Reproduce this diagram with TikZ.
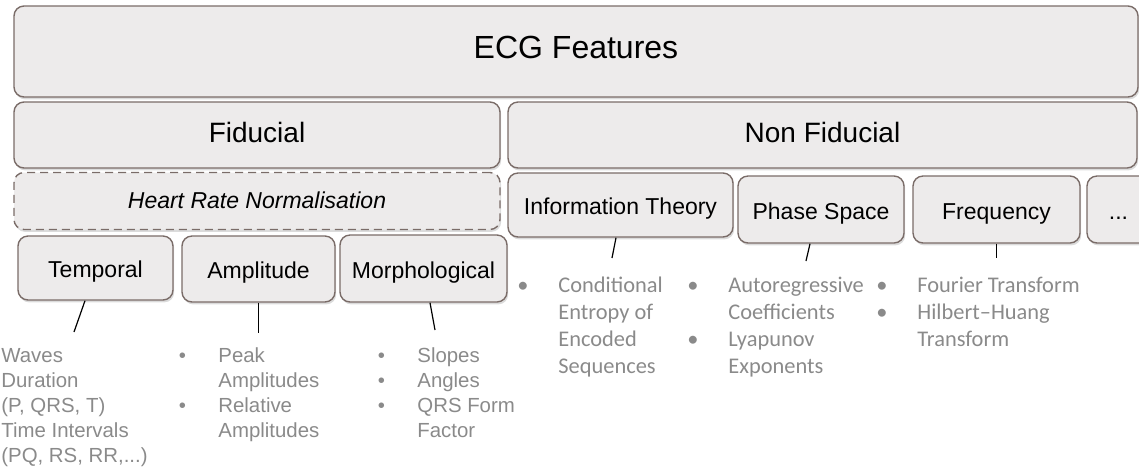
\documentclass[tikz,border=0pt]{standalone}
\usepackage{fontspec}
\setmainfont{Liberation Sans}
\newfontfamily\calibrifont{Carlito}
\usepackage{xcolor}
\usepackage{tikz}
\usetikzlibrary{shapes,shadows}

\definecolor{boxfill}{HTML}{EDEBEB}
\definecolor{boxline}{HTML}{7A6C68}
\definecolor{listgray}{HTML}{8A8A8A}

\newcommand{\itm}{\llap{\textbullet\hspace{16.2pt}}}
\newcommand{\citm}{\llap{\textbullet\hspace{15pt}}}
\newcommand{\lines}[1]{\begin{tabular}[t]{@{}l@{}}#1\end{tabular}}

\begin{document}
\begin{tikzpicture}[
    x=0.5pt, y=-0.5pt,
    box/.style={rectangle, rounded corners=5pt, draw=boxline, line width=0.7pt, fill=boxfill, align=center, inner sep=0pt,
        text height=0.72em, text depth=0pt,
        drop shadow={shadow xshift=0.6pt, shadow yshift=-1.2pt, fill=black!40, opacity=0.35}},
    catbox/.style={box, text height=0.95em, font=\fontsize{11.5}{13}\selectfont},
    dashbox/.style={catbox, text height=0.72em, dashed, dash pattern=on 4pt off 2.5pt},
    link/.style={line width=0.6pt},
    featlist/.style={anchor=base west, inner sep=0pt, text=listgray, font=\fontsize{10.2}{12.5}\selectfont},
    featlistc/.style={anchor=base west, inner sep=0pt, text=listgray, font=\calibrifont\fontsize{11.2}{13.5}\selectfont}
]
    \useasboundingbox (0,0) rectangle (1139,473);

    \node[box, minimum width=562pt, minimum height=45.5pt, font=\fontsize{16}{18}\selectfont] (ecg) at (576,51.5) {ECG Features};
    \node[box, minimum width=243pt, minimum height=33pt, font=\fontsize{14}{16}\selectfont] (fiducial) at (257,135) {Fiducial};
    \node[box, minimum width=314.5pt, minimum height=33pt, font=\fontsize{14}{16}\selectfont] (nonfiducial) at (822.5,135) {Non Fiducial};
    \node[dashbox, minimum width=243pt, minimum height=28.5pt] (hrnorm) at (257,201) {\itshape Heart Rate Normalisation};

    \node[catbox, minimum width=112.5pt, minimum height=32pt] (infotheory) at (620.5,205) {Information Theory};
    \node[catbox, minimum width=83pt, minimum height=33.5pt] (phasespace) at (821,209.5) {Phase Space};
    \node[catbox, minimum width=83.5pt, minimum height=33.5pt] (frequency) at (996.5,209.5) {Frequency};
    \node[catbox, minimum width=31.5pt, minimum height=33.5pt] (others) at (1118.5,209.5) {...};

    \node[catbox, minimum width=77.5pt, minimum height=32pt] (temporal) at (95.5,268) {Temporal};
    \node[catbox, minimum width=76.5pt, minimum height=33pt] (amplitude) at (258.5,269) {Amplitude};
    \node[catbox, minimum width=83.5pt, minimum height=33.5pt] (morphological) at (423.5,268.5) {Morphological};

    \coordinate (temporalEnd) at (74,332);
    \coordinate (amplitudeEnd) at (258.5,333);
    \coordinate (morphologicalEnd) at (435,330);
    \coordinate (infotheoryEnd) at (612,258);
    \coordinate (phasespaceEnd) at (806,261);
    \coordinate (frequencyEnd) at (996.5,258);

    \draw[link] ([xshift=-5.25pt]temporal.south) -- (temporalEnd);
    \draw[link] (amplitude.south) -- (amplitudeEnd);
    \draw[link] ([xshift=3.25pt]morphological.south) -- (morphologicalEnd);
    \draw[link] ([xshift=-2.25pt]infotheory.south) -- (infotheoryEnd);
    \draw[link] ([xshift=-5.5pt]phasespace.south) -- (phasespaceEnd);
    \draw[link] (frequency.south) -- (frequencyEnd);

    \node[featlist] (temporalList) at (1,362) {\lines{Waves\\Duration\\(P, QRS, T)\\Time Intervals\\(PQ, RS, RR,...)}};
    \node[featlist] (amplitudeList) at (218,362) {\lines{\itm Peak\\Amplitudes\\\itm Relative\\Amplitudes}};
    \node[featlist] (morphologicalList) at (417,362) {\lines{\itm Slopes\\\itm Angles\\\itm QRS Form\\Factor}};
    \node[featlistc] (infotheoryList) at (558,292) {\lines{\citm Conditional\\Entropy of\\Encoded\\Sequences}};
    \node[featlistc] (phasespaceList) at (728,292) {\lines{\citm Autoregressive\\Coefficients\\\citm Lyapunov\\Exponents}};
    \node[featlistc] (frequencyList) at (917,292) {\lines{\citm Fourier Transform\\\citm Hilbert–Huang\\Transform}};
\end{tikzpicture}
\end{document}
